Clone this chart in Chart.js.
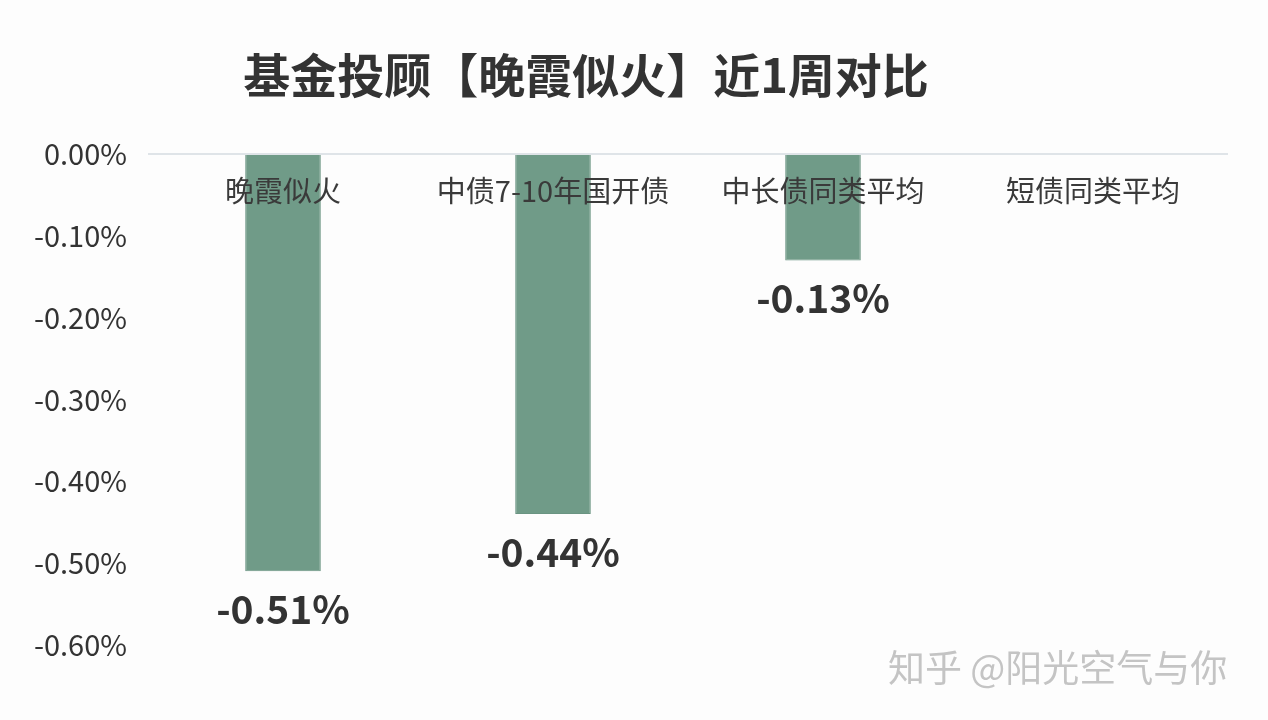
<!DOCTYPE html>
<html>
<head>
<meta charset="utf-8">
<script src="https://cdn.jsdelivr.net/npm/chart.js@4"></script>
<style>
  html, body { margin: 0; padding: 0; background: #fdfdfd; }
  #wrap { width: 1268px; height: 720px; }
</style>
</head>
<body>
<div id="wrap"><canvas id="myChart" width="1268" height="720"></canvas></div>
<script>
// Données du graphique
const categories = ['晚霞似火', '中债7-10年国开债', '中长债同类平均', '短债同类平均'];
const values = [-0.51, -0.44, -0.13, null];
const valueLabels = ['-0.51%', '-0.44%', '-0.13%', ''];
const yTicks = [0, -0.1, -0.2, -0.3, -0.4, -0.5, -0.6];
const titleText = '基金投顾【晚霞似火】近1周对比';
const watermark = '知乎 @阳光空气与你';

const FONT = '"Noto Sans CJK SC", "Noto Sans", sans-serif';

// Titre, libellés des catégories, valeurs et filigrane
const labelsPlugin = {
    id: 'labelsPlugin',
    afterDatasetsDraw(chart) {
        const ctx = chart.ctx;
        const x = chart.scales.x;
        const y = chart.scales.y;
        ctx.save();
        ctx.textAlign = 'center';
        ctx.textBaseline = 'middle';

        // titre
        ctx.fillStyle = '#333333';
        ctx.font = 'bold 47px ' + FONT;
        ctx.fillText(titleText, 586, 75);

        // catégories sous la ligne zéro
        ctx.font = '29px ' + FONT;
        ctx.fillStyle = '#3a3a3a';
        categories.forEach((c, i) => {
            ctx.fillText(c, x.getPixelForValue(i), y.getPixelForValue(0) + 37);
        });

        // valeurs sous les barres
        ctx.font = 'bold 39px ' + FONT;
        ctx.fillStyle = '#333333';
        values.forEach((v, i) => {
            if (v === null) return;
            ctx.fillText(valueLabels[i], x.getPixelForValue(i), y.getPixelForValue(v) + 38);
        });

        // filigrane
        ctx.font = '37px ' + FONT;
        ctx.fillStyle = '#c4c4c4';
        ctx.textAlign = 'left';
        ctx.fillText(watermark, 888, 668);
        ctx.restore();
    }
};

const ctx = document.getElementById('myChart').getContext('2d');
const myChart = new Chart(ctx, {
    type: 'bar',
    data: {
        labels: categories,
        datasets: [{
            data: values,
            backgroundColor: '#709b88',
            borderColor: '#6a9482',
            borderWidth: 1,
            barPercentage: 0.28,
            categoryPercentage: 1
        }]
    },
    options: {
        responsive: false,
        animation: false,
        layout: { padding: { top: 154, bottom: 75, left: 0, right: 40 } },
        plugins: {
            legend: { display: false },
            title: { display: false },
            tooltip: { enabled: false }
        },
        scales: {
            x: {
                display: false
            },
            y: {
                min: -0.6,
                max: 0,
                afterFit(scale) { scale.width = 148; },
                afterBuildTicks(scale) {
                    scale.ticks = yTicks.map(v => ({ value: v }));
                },
                border: { display: false },
                grid: {
                    drawTicks: false,
                    color: (c) => c.tick && c.tick.value === 0 ? '#dfe4e8' : 'rgba(0,0,0,0)',
                    lineWidth: 2
                },
                ticks: {
                    padding: 21,
                    color: '#333333',
                    font: { size: 29, family: FONT },
                    callback: (v) => Number(v).toFixed(2) + '%'
                }
            }
        }
    },
    plugins: [labelsPlugin]
});
</script>
</body>
</html>
